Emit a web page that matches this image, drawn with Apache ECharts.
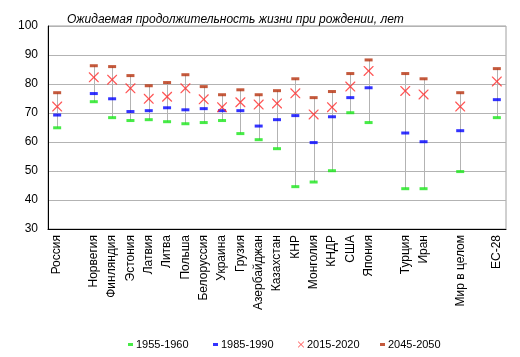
<!DOCTYPE html>
<html><head><meta charset="utf-8">
<script src="https://cdn.jsdelivr.net/npm/echarts@6/dist/echarts.min.js"></script>
<style>html,body{margin:0;padding:0;background:#fff}#c{width:520px;height:357px}</style>
</head><body><div id="c"></div>
<script>
const categories = ['Россия','','Норвегия','Финляндия','Эстония','Латвия','Литва','Польша','Белоруссия','Украина','Грузия','Азербайджан','Казахстан','КНР','Монголия','КНДР','США','Япония','','Турция','Иран','','Мир в целом','','ЕС-28'];
const s1955 = [64.9,null,73.9,68.4,67.4,67.7,67.0,66.3,66.7,67.4,62.9,60.8,57.7,44.6,46.2,50.1,70.1,66.7,null,43.9,43.9,null,49.8,null,68.4];
const s1985 = [69.3,null,76.7,74.9,70.5,70.8,71.8,71.1,71.5,70.8,70.8,65.5,67.7,69.1,59.8,68.7,75.3,78.7,null,63.1,60.1,null,63.9,null,74.6];
const s2015 = [72.2,null,82.3,81.5,78.5,74.9,75.6,78.5,74.7,72.0,73.7,72.9,73.3,76.8,69.5,72.0,79.1,84.5,null,77.6,76.4,null,72.2,null,80.9];
const s2045 = [77.0,null,86.3,86.0,82.9,79.4,80.5,83.2,79.1,76.3,78.0,76.3,77.7,81.8,75.3,77.4,83.6,88.3,null,83.6,81.8,null,77.0,null,85.3];
const yTicks = [30,40,50,60,70,80,90,100];
const seriesNames = ['1955-1960','1985-1990','2015-2020','2045-2050'];

const ranges = [];
categories.forEach((c,i)=>{
  const v=[s1955[i],s1985[i],s2015[i],s2045[i]].filter(x=>x!=null);
  if(v.length) ranges.push([i, Math.min(...v), Math.max(...v)]);
});
const xPath = 'path://M0,0 L0.9,0 L5,4.1 L9.1,0 L10,0 L10,0.9 L5.9,5 L10,9.1 L10,10 L9.1,10 L5,5.9 L0.9,10 L0,10 L0,9.1 L4.1,5 L0,0.9 Z';
const FF = '"Liberation Sans", Arial, sans-serif';
const chart = echarts.init(document.getElementById('c'));
const legendLefts = [123, 208, 293, 375];
const colors = ['#19e619','#0000ff','#ff2a2a','#b5300b'];
chart.setOption({
  animation:false,
  title:{text:'Ожидаемая продолжительность жизни при рождении, лет', left:62, top:9,
    textStyle:{fontFamily:FF, fontSize:12, fontStyle:'italic', fontWeight:'normal', color:'#000'}},
  grid:{left:48, right:14, top:26, bottom:128, show:true, borderColor:'#a0a0a0', borderWidth:1},
  legend: seriesNames.map((n,i)=>({
    data:[{name:n, icon: i===2 ? xPath : 'rect'}],
    left: legendLefts[i], top: 334,
    itemWidth: i===2 ? 6 : 5, itemHeight: i===2 ? 6 : 3, itemGap:5,
    selectedMode:false,
    textStyle:{fontFamily:FF, fontSize:11, color:'#000', padding:[0,0,0,-2]}
  })),
  xAxis:{type:'category', data:categories, boundaryGap:true,
    axisLine:{lineStyle:{color:'#000'}}, axisTick:{show:false},
    axisLabel:{interval:0, rotate:90, fontFamily:FF, fontSize:12, color:'#000', margin:6}},
  yAxis:{type:'value', min:30, max:100, interval:10,
    axisLine:{show:true, lineStyle:{color:'#000'}}, axisTick:{show:false},
    splitLine:{lineStyle:{color:'#b3b3b3'}},
    axisLabel:{fontFamily:FF, fontSize:12, color:'#000', margin:10,
      formatter:v=>yTicks.includes(v)?String(v):''}},
  series:[
    {type:'custom', silent:true, z:1, data:ranges,
      renderItem:(params,api)=>{
        const x=api.value(0), p1=api.coord([x,api.value(1)]), p2=api.coord([x,api.value(2)]);
        const px=Math.round(p1[0])+0.5;
        return {type:'line', shape:{x1:px,y1:p1[1],x2:px,y2:p2[1]}, style:{stroke:'#b3b3b3', lineWidth:1}};
      }},
    {name:seriesNames[0], type:'scatter', z:3, symbol:'rect', symbolSize:[8,3], itemStyle:{color:colors[0]}, data:s1955.map((v,i)=>[i,v])},
    {name:seriesNames[1], type:'scatter', z:3, symbol:'rect', symbolSize:[8,3], itemStyle:{color:colors[1]}, data:s1985.map((v,i)=>[i,v])},
    {name:seriesNames[2], type:'scatter', z:4, symbol:xPath, symbolSize:[10,10], itemStyle:{color:colors[2]}, data:s2015.map((v,i)=>[i,v])},
    {name:seriesNames[3], type:'scatter', z:3, symbol:'rect', symbolSize:[8,3], itemStyle:{color:colors[3]}, data:s2045.map((v,i)=>[i,v])}
  ]
});
</script></body></html>
